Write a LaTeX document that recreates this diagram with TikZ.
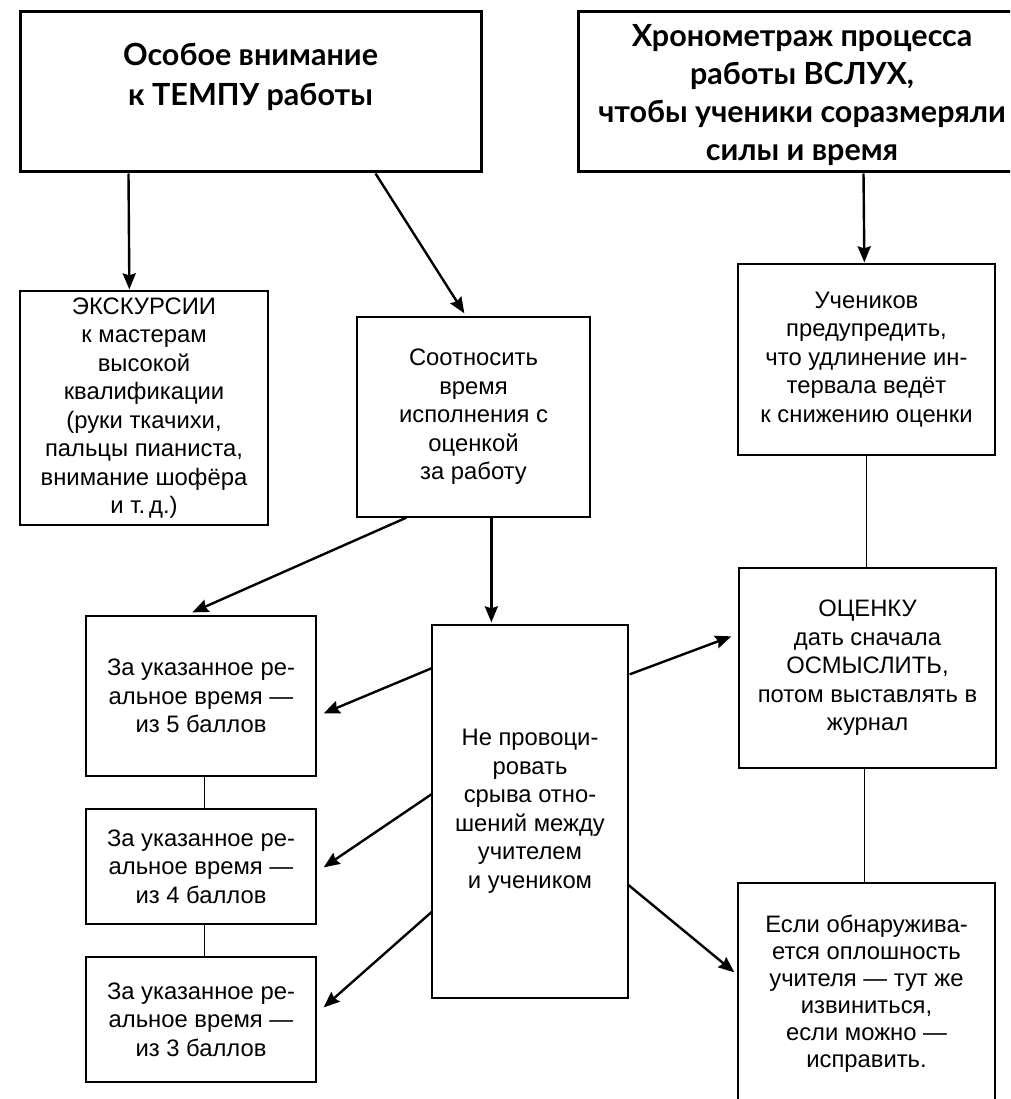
\documentclass[tikz,border=0pt]{standalone}
\usepackage{fontspec}
\setmainfont{Liberation Sans}
\newfontfamily\headfont{Lato}
\usetikzlibrary{arrows.meta,calc}
\begin{document}
\begin{tikzpicture}[x=1pt,y=-1pt,
  box/.style={draw, line width=1.3pt, rectangle, inner sep=0pt, align=center,
    font=\fontsize{23.8}{28.5}\selectfont},
  headbox/.style={draw, line width=3pt, rectangle, inner sep=0pt},
  headtxt/.style={align=center, inner sep=0pt, font=\headfont\bfseries\fontsize{30.5}{40}\selectfont},
  arr/.style={line width=2.4pt, -{Stealth[length=16pt,width=13pt,inset=2pt]}},
  link/.style={line width=1.3pt}]
\useasboundingbox (0,0) rectangle (1010,1099);
\clip (0,0) rectangle (1010,1099);

% heading boxes
\node[headbox, minimum width=461pt, minimum height=160pt] (A) at (250.5,92) {};
\node[headtxt] (At) at (250.5,77) {Особое внимание\\к ТЕМПУ работы};
\node[headbox, minimum width=448pt, minimum height=160pt] (B) at (802,92) {};
\node[headtxt, font=\headfont\bfseries\fontsize{30.5}{38}\selectfont] (Bt) at (802,95)
  {Хронометраж процесса\\работы ВСЛУХ,\\чтобы ученики соразмеряли\\силы и время};

% boxes
\node[box, minimum width=248pt, minimum height=234pt] (C) at (144,408)
  {ЭКСКУРСИИ\\к мастерам\\высокой\\квалификации\\(руки ткачихи,\\пальцы пианиста,\\внимание шофёра\\и т.\,д.)};
\node[box, minimum width=233pt, minimum height=200pt] (D) at (473.5,417)
  {Соотносить\\время\\исполнения с\\оценкой\\за работу};
\node[box, minimum width=257pt, minimum height=191pt] (E) at (866.5,359.5)
  {Учеников\\предупредить,\\что удлинение ин-\\тервала ведёт\\к снижению оценки};
\node[box, minimum width=257pt, minimum height=200pt] (F) at (867.5,668)
  {ОЦЕНКУ\\дать сначала\\ОСМЫСЛИТЬ,\\потом выставлять в\\журнал};
\node[box, minimum width=257pt, minimum height=222pt, font=\fontsize{23.8}{27}\selectfont] (G) at (866.5,994)
  {Если обнаружива-\\ется оплошность\\учителя — тут же\\извиниться,\\если можно —\\исправить.};
\node[box, minimum width=230pt, minimum height=160pt] (H) at (201,696)
  {За указанное ре-\\альное время —\\из 5 баллов};
\node[box, minimum width=230pt, minimum height=115pt] (I) at (201,866.5)
  {За указанное ре-\\альное время —\\из 4 баллов};
\node[box, minimum width=230pt, minimum height=125pt] (J) at (201,1019.5)
  {За указанное ре-\\альное время —\\из 3 баллов};
\node[box, minimum width=196pt, minimum height=373pt] (K) at (530,811.5)
  {Не провоци-\\ровать\\срыва отно-\\шений между\\учителем\\и учеником};

% arrows
\draw[arr] ($(A.south west)+(110,0)$) -- ($(C.north west)+(110,-1)$);
\draw[arr] ($(A.south west)+(357,0)$) -- ($(D.north west)+(108,-3)$);
\draw[arr] ($(B.south west)+(287,0)$) -- ($(E.north west)+(127,-1)$);
\draw[arr] ($(D.south west)+(50,0)$) -- ($(H.north west)+(107,-3)$);
\draw[arr] ($(D.south west)+(135,0)$) -- ($(K.north west)+(60,-2)$);
\draw[arr] ($(K.north west)+(0,44)$) -- ($(H.north east)+(7,98)$);
\draw[arr] ($(K.north west)+(0,170)$) -- ($(I.north east)+(7,59)$);
\draw[arr] ($(K.north west)+(1,287)$) -- ($(J.north east)+(7,51)$);
\draw[arr] ($(K.north east)+(1,50)$) -- ($(F.north west)+(-7,69)$);
\draw[arr] ($(K.north east)+(-1,260)$) -- ($(G.north west)+(-3,90)$);

% plain links
\draw[link] (E.south) -- (E.south |- F.north);
\draw[link] ($(F.south west)+(126,0)$) -- ($(G.north west)+(127,0)$);
\draw[link] ($(H.south west)+(119,0)$) -- ($(I.north west)+(119,0)$);
\draw[link] ($(I.south west)+(119,0)$) -- ($(J.north west)+(119,0)$);
\end{tikzpicture}
\end{document}
